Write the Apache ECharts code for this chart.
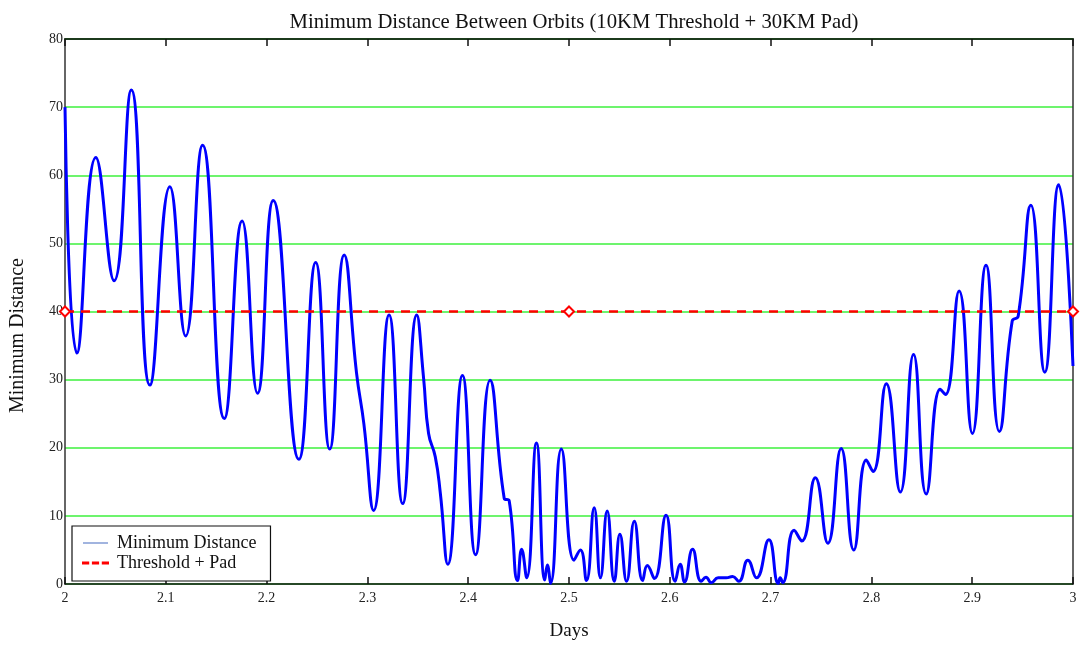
<!DOCTYPE html>
<html>
<head>
<meta charset="utf-8">
<script src="https://cdn.jsdelivr.net/npm/echarts@6/dist/echarts.min.js"></script>
<style>html,body{margin:0;padding:0;background:#fff;overflow:hidden}#c{width:1081px;height:646px}</style>
</head>
<body>
<div id="c"></div>
<script>
var titleText = 'Minimum Distance Between Orbits (10KM Threshold + 30KM Pad)';
var xAxisName = 'Days';
var yAxisName = 'Minimum Distance';
var seriesNames = ['Minimum Distance', 'Threshold + Pad'];

var days = [2.000,2.0118,2.0306,2.0487,2.0658,2.0842,2.104,2.1197,2.1365,2.158,2.1757,2.1910,2.2066,2.2320,2.2487,2.2626,2.2770,2.2892,2.2965,2.3061,2.3215,2.3350,2.3490,2.3557,2.3607,2.3673,2.3723,2.3797,2.3943,2.4073,2.4217,2.4357,2.4407,2.4490,2.4530,2.4580,2.4677,2.4760,2.4785,2.4817,2.4924,2.5050,2.5113,2.5173,2.5250,2.5312,2.5379,2.5449,2.5505,2.5571,2.5648,2.5731,2.5777,2.5847,2.5963,2.6053,2.6103,2.6146,2.6226,2.6312,2.6359,2.6412,2.6480,2.6560,2.6623,2.6684,2.6774,2.6860,2.6983,2.7076,2.7095,2.7120,2.7233,2.7309,2.7444,2.7568,2.7700,2.7825,2.7950,2.8016,2.8148,2.8287,2.8418,2.8544,2.8682,2.8735,2.8870,2.9002,2.9137,2.9269,2.9397,2.9456,2.9582,2.9720,2.9858,3.0000];
var minDistance = [70,33.9,62.6,44.5,72.5,29.2,58.3,36.4,64.4,24.3,53.3,28.0,56.3,18.3,47.2,19.8,48.3,31,23.5,10.8,39.5,11.8,39.5,30.3,22.1,18.7,13.4,2.9,30.6,4.3,29.9,12.6,12.2,0.5,5.1,0.9,20.7,0.6,2.8,0.1,19.8,3.5,5.0,0.5,11.2,0.9,10.7,0.4,7.3,0.4,9.2,0.5,2.7,0.8,10.1,0.4,2.9,0.3,5.1,0.4,1.0,0.2,0.9,0.9,1.1,0.4,3.5,0.9,6.5,0.1,0.9,0.2,7.9,6.3,15.6,6.0,19.9,5.0,18.2,16.5,29.4,13.5,33.7,13.2,28.6,27.8,43.0,22.1,46.8,22.4,38.6,39.3,55.6,31.1,58.6,32.0];

var thresholdDays = [2, 2.5, 3];
var thresholdValues = [40, 40, 40];

var yTicks = [0,10,20,30,40,50,60,70,80];
var xTicks = [2,2.1,2.2,2.3,2.4,2.5,2.6,2.7,2.8,2.9,3];

var FONT = '"Liberation Serif", "DejaVu Serif", serif';

var chart = echarts.init(document.getElementById('c'), null, {renderer: 'canvas', width: 1081, height: 646});

var mainData = days.map(function (d, i) { return [d, minDistance[i]]; });
var thrData = thresholdDays.map(function (d, i) { return [d, thresholdValues[i]]; });

chart.setOption({
  animation: false,
  backgroundColor: '#ffffff',
  title: {
    text: titleText,
    left: 569,
    top: 7,
    textAlign: 'center',
    textStyle: {fontFamily: FONT, fontSize: 20.7, fontWeight: 'normal', color: '#111'}
  },
  grid: {left: 65, top: 39, width: 1008, height: 550, containLabel: false},
  legend: {
    orient: 'vertical',
    left: 72,
    top: 526,
    padding: [8, 14, 9, 10],
    itemGap: 2,
    itemWidth: 25,
    itemHeight: 6,
    borderColor: '#111',
    borderWidth: 1.2,
    borderRadius: 0,
    backgroundColor: '#fff',
    textStyle: {fontFamily: FONT, fontSize: 18, color: '#111', padding: [0, 0, 0, 4]},
    data: [
      {name: seriesNames[0], icon: 'path://M0,0h24v1h-24z', itemStyle: {color: '#4a6fc2'}},
      {name: seriesNames[1], icon: 'path://M0,0h5v1h-5z M9.5,0h5v1h-5z M19,0h5v1h-5z', itemStyle: {color: '#ff0000'}}
    ]
  },
  xAxis: [{
    type: 'value',
    min: 2, max: 3, interval: 0.1,
    name: xAxisName,
    nameLocation: 'middle',
    nameGap: 38,
    nameTextStyle: {fontFamily: FONT, fontSize: 19, color: '#111'},
    axisLine: {show: true, onZero: false, lineStyle: {color: '#111', width: 1.5}},
    axisTick: {show: true, inside: true, length: 7, lineStyle: {color: '#111', width: 1.5}},
    axisLabel: {fontFamily: FONT, fontSize: 14, color: '#222', margin: 7,
      formatter: function (v) { return String(Math.round(v * 10) / 10); }},
    splitLine: {show: false}
  }, {
    type: 'value',
    position: 'top',
    min: 2, max: 3, interval: 0.1,
    axisLine: {show: true, onZero: false, lineStyle: {color: '#1c3a1c', width: 2}},
    axisTick: {show: true, inside: true, length: 7, lineStyle: {color: '#111', width: 1.5}},
    axisLabel: {show: false},
    splitLine: {show: false}
  }],
  yAxis: [{
    type: 'value',
    min: 0, max: 80, interval: 10,
    name: yAxisName,
    nameLocation: 'middle',
    nameGap: 37,
    nameRotate: 90,
    nameTextStyle: {fontFamily: FONT, fontSize: 20, color: '#111', padding: [0, 48, 0, 0]},
    axisLine: {show: true, onZero: false, lineStyle: {color: '#333', width: 1.5}},
    axisTick: {show: false},
    axisLabel: {fontFamily: FONT, fontSize: 14, color: '#222', margin: 2},
    splitLine: {show: true, lineStyle: {color: '#3cf03c', width: 1.5}}
  }, {
    type: 'value',
    position: 'right',
    min: 0, max: 80, interval: 10,
    axisLine: {show: true, onZero: false, lineStyle: {color: '#333', width: 1.5}},
    axisTick: {show: false},
    axisLabel: {show: false},
    splitLine: {show: false}
  }],
  series: [{
    name: seriesNames[0],
    type: 'line',
    data: mainData,
    smooth: 0.5,
    showSymbol: false,
    symbol: 'none',
    clip: true,
    lineStyle: {color: '#0000ff', width: 3},
    itemStyle: {color: '#4a6fc2'},
    z: 3
  }, {
    name: seriesNames[1],
    type: 'line',
    data: thrData,
    symbol: 'emptyDiamond',
    symbolSize: 10,
    showSymbol: true,
    showAllSymbol: true,
    clip: false,
    lineStyle: {color: '#ff0000', width: 2.5, type: [9, 7]},
    itemStyle: {color: '#ff0000', borderColor: '#ff0000', borderWidth: 1},
    z: 4
  }]
});
</script>
</body>
</html>
